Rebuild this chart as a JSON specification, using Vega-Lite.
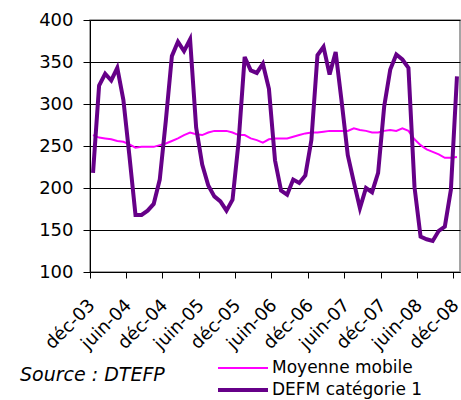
{
  "$schema": "https://vega.github.io/schema/vega-lite/v6.json",
  "width": 370,
  "height": 252,
  "autosize": {"type": "none"},
  "padding": {"left": 90, "top": 20, "right": 1, "bottom": 128},
  "background": "white",
  "config": {"font": "DejaVu Sans", "view": {"stroke": "#888", "strokeWidth": 1.5}},
  "title": {"text": "Source : DTEFP", "orient": "bottom", "anchor": "start", "frame": "group", "fontStyle": "italic", "fontWeight": "normal", "fontSize": 19, "color": "black", "dx": -70, "offset": 0, "dy": -35},
  "data": {"values": [
    {"mois": "déc-03", "DEFM catégorie 1": 218, "Moyenne mobile": 263},
    {"mois": "janv-04", "DEFM catégorie 1": 322, "Moyenne mobile": 260},
    {"mois": "févr-04", "DEFM catégorie 1": 336, "Moyenne mobile": 259},
    {"mois": "mars-04", "DEFM catégorie 1": 328, "Moyenne mobile": 258},
    {"mois": "avr-04", "DEFM catégorie 1": 343, "Moyenne mobile": 256},
    {"mois": "mai-04", "DEFM catégorie 1": 305, "Moyenne mobile": 255},
    {"mois": "juin-04", "DEFM catégorie 1": 238, "Moyenne mobile": 252},
    {"mois": "juil-04", "DEFM catégorie 1": 168, "Moyenne mobile": 248},
    {"mois": "août-04", "DEFM catégorie 1": 168, "Moyenne mobile": 249},
    {"mois": "sept-04", "DEFM catégorie 1": 173, "Moyenne mobile": 249},
    {"mois": "oct-04", "DEFM catégorie 1": 181, "Moyenne mobile": 249},
    {"mois": "nov-04", "DEFM catégorie 1": 210, "Moyenne mobile": 251},
    {"mois": "déc-04", "DEFM catégorie 1": 280, "Moyenne mobile": 253},
    {"mois": "janv-05", "DEFM catégorie 1": 357, "Moyenne mobile": 256},
    {"mois": "févr-05", "DEFM catégorie 1": 374, "Moyenne mobile": 259},
    {"mois": "mars-05", "DEFM catégorie 1": 363, "Moyenne mobile": 263},
    {"mois": "avr-05", "DEFM catégorie 1": 377, "Moyenne mobile": 266},
    {"mois": "mai-05", "DEFM catégorie 1": 272, "Moyenne mobile": 264},
    {"mois": "juin-05", "DEFM catégorie 1": 228, "Moyenne mobile": 263},
    {"mois": "juil-05", "DEFM catégorie 1": 203, "Moyenne mobile": 266},
    {"mois": "août-05", "DEFM catégorie 1": 190, "Moyenne mobile": 268},
    {"mois": "sept-05", "DEFM catégorie 1": 184, "Moyenne mobile": 268},
    {"mois": "oct-05", "DEFM catégorie 1": 173, "Moyenne mobile": 268},
    {"mois": "nov-05", "DEFM catégorie 1": 186, "Moyenne mobile": 266},
    {"mois": "déc-05", "DEFM catégorie 1": 255, "Moyenne mobile": 263},
    {"mois": "janv-06", "DEFM catégorie 1": 356, "Moyenne mobile": 263},
    {"mois": "févr-06", "DEFM catégorie 1": 340, "Moyenne mobile": 259},
    {"mois": "mars-06", "DEFM catégorie 1": 337, "Moyenne mobile": 257},
    {"mois": "avr-06", "DEFM catégorie 1": 348, "Moyenne mobile": 254},
    {"mois": "mai-06", "DEFM catégorie 1": 318, "Moyenne mobile": 258},
    {"mois": "juin-06", "DEFM catégorie 1": 233, "Moyenne mobile": 259},
    {"mois": "juil-06", "DEFM catégorie 1": 197, "Moyenne mobile": 259},
    {"mois": "août-06", "DEFM catégorie 1": 192, "Moyenne mobile": 259},
    {"mois": "sept-06", "DEFM catégorie 1": 210, "Moyenne mobile": 261},
    {"mois": "oct-06", "DEFM catégorie 1": 206, "Moyenne mobile": 263},
    {"mois": "nov-06", "DEFM catégorie 1": 215, "Moyenne mobile": 265},
    {"mois": "déc-06", "DEFM catégorie 1": 257, "Moyenne mobile": 266},
    {"mois": "janv-07", "DEFM catégorie 1": 358, "Moyenne mobile": 266},
    {"mois": "févr-07", "DEFM catégorie 1": 368, "Moyenne mobile": 267},
    {"mois": "mars-07", "DEFM catégorie 1": 335, "Moyenne mobile": 268},
    {"mois": "avr-07", "DEFM catégorie 1": 362, "Moyenne mobile": 268},
    {"mois": "mai-07", "DEFM catégorie 1": 302, "Moyenne mobile": 268},
    {"mois": "juin-07", "DEFM catégorie 1": 239, "Moyenne mobile": 268},
    {"mois": "juil-07", "DEFM catégorie 1": 207, "Moyenne mobile": 271},
    {"mois": "août-07", "DEFM catégorie 1": 176, "Moyenne mobile": 269},
    {"mois": "sept-07", "DEFM catégorie 1": 200, "Moyenne mobile": 268},
    {"mois": "oct-07", "DEFM catégorie 1": 195, "Moyenne mobile": 266},
    {"mois": "nov-07", "DEFM catégorie 1": 218, "Moyenne mobile": 266},
    {"mois": "déc-07", "DEFM catégorie 1": 297, "Moyenne mobile": 268},
    {"mois": "janv-08", "DEFM catégorie 1": 341, "Moyenne mobile": 269},
    {"mois": "févr-08", "DEFM catégorie 1": 359, "Moyenne mobile": 268},
    {"mois": "mars-08", "DEFM catégorie 1": 353, "Moyenne mobile": 271},
    {"mois": "avr-08", "DEFM catégorie 1": 343, "Moyenne mobile": 268},
    {"mois": "mai-08", "DEFM catégorie 1": 201, "Moyenne mobile": 258},
    {"mois": "juin-08", "DEFM catégorie 1": 142, "Moyenne mobile": 251},
    {"mois": "juil-08", "DEFM catégorie 1": 139, "Moyenne mobile": 246},
    {"mois": "août-08", "DEFM catégorie 1": 137, "Moyenne mobile": 243},
    {"mois": "sept-08", "DEFM catégorie 1": 149, "Moyenne mobile": 240},
    {"mois": "oct-08", "DEFM catégorie 1": 154, "Moyenne mobile": 236},
    {"mois": "nov-08", "DEFM catégorie 1": 198, "Moyenne mobile": 236},
    {"mois": "déc-08", "DEFM catégorie 1": 333, "Moyenne mobile": 237}
  ]},
  "transform": [{"fold": ["Moyenne mobile", "DEFM catégorie 1"], "as": ["serie", "valeur"]}],
  "mark": {"type": "line", "strokeJoin": "miter"},
  "encoding": {
    "x": {
      "field": "mois", "type": "ordinal", "sort": null,
      "scale": {"type": "band", "paddingInner": 0, "paddingOuter": 0},
      "axis": {"title": null, "values": ["déc-03", "juin-04", "déc-04", "juin-05", "déc-05", "juin-06", "déc-06", "juin-07", "déc-07", "juin-08", "déc-08"],
        "bandPosition": 0, "labelAngle": -45, "labelAlign": "right", "labelBaseline": "top", "labelFontSize": 18, "labelColor": "black",
        "tickColor": "black", "domainColor": "black", "tickSize": 6, "labelPadding": 18, "labelOffset": -7, "grid": false}
    },
    "y": {
      "field": "valeur", "type": "quantitative",
      "scale": {"domain": [100, 400], "nice": false, "zero": false},
      "axis": {"title": null, "values": [100, 150, 200, 250, 300, 350, 400], "grid": true, "gridColor": "black", "gridOpacity": 1,
        "tickSize": 7, "labelPadding": 10, "labelFontSize": 18, "labelColor": "black", "domainColor": "black", "tickColor": "black"}
    },
    "color": {
      "field": "serie", "type": "nominal",
      "scale": {"domain": ["Moyenne mobile", "DEFM catégorie 1"], "range": ["#FF00FF", "#660088"]},
      "legend": {"orient": "none", "legendX": 126, "legendY": 337, "title": null, "symbolType": "stroke", "symbolSize": 2500, "clipHeight": 22, "rowPadding": 0, "labelFontSize": 17, "labelColor": "black", "labelOffset": 2}
    },
    "strokeWidth": {
      "field": "serie", "type": "nominal",
      "scale": {"domain": ["Moyenne mobile", "DEFM catégorie 1"], "range": [2, 4]},
      "legend": {"orient": "none", "legendX": 126, "legendY": 337, "title": null, "symbolType": "stroke", "symbolSize": 2500, "clipHeight": 22, "rowPadding": 0, "labelFontSize": 17, "labelColor": "black", "labelOffset": 2}
    }
  }
}
